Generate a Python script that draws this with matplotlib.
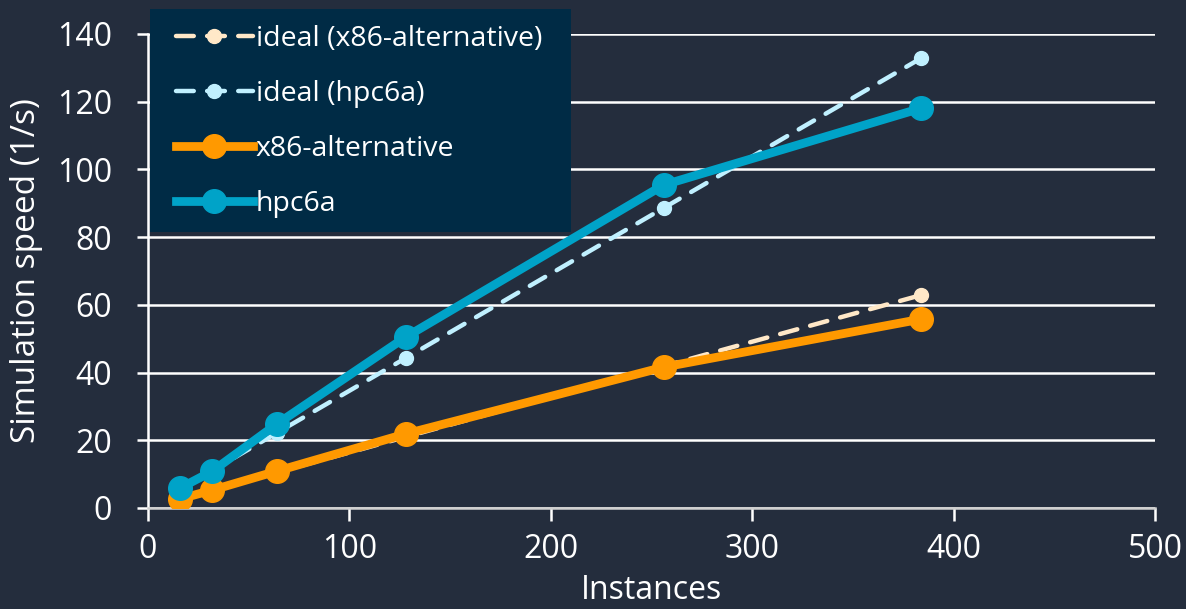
import matplotlib
matplotlib.use("Agg")
import matplotlib.pyplot as plt
from matplotlib.patches import Rectangle

# instance counts and measured / ideal simulation speeds (1/s)
instances = [16, 32, 64, 128, 256, 384]
hpc6a = [5.9, 10.9, 24.8, 50.5, 95.4, 118.1]
x86_alt = [2.7, 5.3, 10.9, 21.9, 41.6, 55.8]
ideal_hpc6a = [5.54, 11.08, 22.2, 44.3, 88.6, 132.9]
ideal_x86 = [2.62, 5.24, 10.5, 21.0, 41.9, 62.9]

bg = "#242D3D"
W, H = 1186, 609
plt.rcParams["font.family"] = ["Open Sans", "DejaVu Sans"]

fig = plt.figure(figsize=(W / 100, H / 100), dpi=100, facecolor=bg)
ax = fig.add_axes([148 / W, 1 - 508 / H, (1155 - 148) / W, (508 - 34) / H])
ax.set_facecolor(bg)

ax.plot(instances, ideal_x86, color="#FFE8C8", lw=3.2, ls=(0, (4, 3)),
        marker="o", ms=10, dash_capstyle="round", label="ideal (x86-alternative)", zorder=3)
ax.plot(instances, ideal_hpc6a, color="#C0F0FF", lw=3.2, ls=(0, (4, 3)),
        marker="o", ms=10, dash_capstyle="round", label="ideal (hpc6a)", zorder=3)
ax.plot(instances, x86_alt, color="#FF9900", lw=6.3, marker="o", ms=17,
        label="x86-alternative", zorder=4)
ax.plot(instances, hpc6a, color="#00A3C8", lw=6.3, marker="o", ms=17,
        label="hpc6a", zorder=5)

ax.set_xlim(0, 500)
ax.set_ylim(0, 140)
ax.set_xticks(range(0, 501, 100))
ax.set_yticks(range(0, 141, 20))
ax.grid(axis="y", color="white", lw=1.8)
ax.set_axisbelow(True)
for s in ["top", "right"]:
    ax.spines[s].set_visible(False)
ax.spines["left"].set_color("white")
ax.spines["bottom"].set_color("#D0D0D0")
ax.spines["left"].set_linewidth(1.8)
ax.spines["bottom"].set_linewidth(1.8)
ax.tick_params(axis="x", colors="white", labelsize=23, length=9, width=1.8, direction="out", pad=9)
ax.tick_params(axis="y", colors="white", labelsize=23, length=8, width=1.8, direction="out", pad=18)
ax.set_xlabel("Instances", color="white", fontsize=23, labelpad=6)
ax.set_ylabel("Simulation speed (1/s)", color="white", fontsize=24, labelpad=10)

# legend panel drawn as a plain box behind a frameless legend
ax.add_patch(Rectangle((150 / W, 1 - 232 / H), (571 - 150) / W, (232 - 9) / H,
                       transform=fig.transFigure, facecolor="#002B45",
                       edgecolor="none", zorder=9, clip_on=False))
leg = ax.legend(loc="upper left", bbox_to_anchor=(176 / W, 1 - 25 / H), bbox_transform=fig.transFigure,
                frameon=False, fontsize=20.5, labelcolor="white", handlelength=2.7,
                handletextpad=0.1, labelspacing=0.95, borderpad=0, borderaxespad=0)
leg.set_zorder(10)

fig.savefig("out.png", dpi=100, facecolor=bg)
